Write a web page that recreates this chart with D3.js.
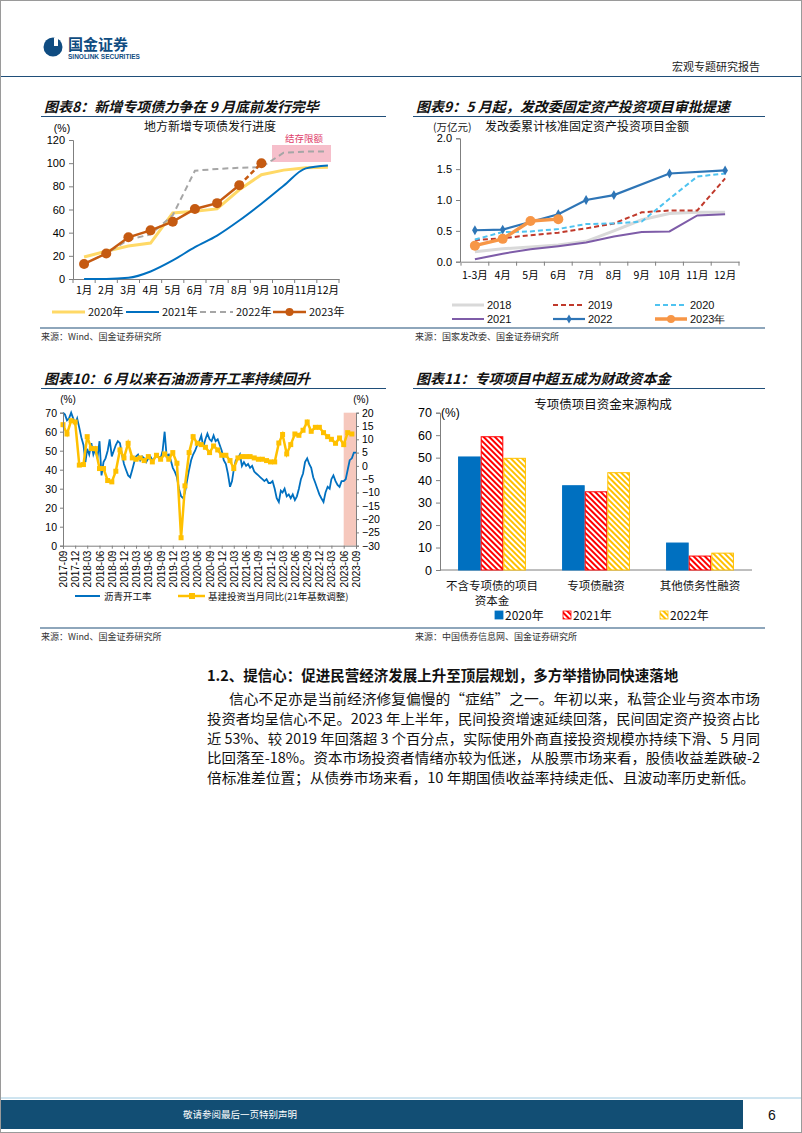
<!DOCTYPE html>
<html>
<head>
<meta charset="utf-8">
<script src="https://cdnjs.cloudflare.com/ajax/libs/d3/7.8.5/d3.min.js"></script>
<style>body{margin:0;background:#fff}</style>
</head>
<body>
<script>
// ---- chart 8 data (地方新增专项债发行进度, %)
const months12 = ["1月","2月","3月","4月","5月","6月","7月","8月","9月","10月","11月","12月"];
const issue2020 = [19,24,28.5,31,57,58.5,60.5,77,90,94,96,96.5];
const issue2021 = [0,0,1,6.5,16,27.5,37.5,50.5,65,80.5,95.5,98];
const issue2022 = [13,22,34,38.5,55,93.5,95,96,96.5,109,110,110];
const issue2023 = [13,22,36,42,49.5,60.5,65.5,81,100];

// ---- chart 9 data (发改委累计核准固定资产投资项目金额, 万亿元)
const ndrcMonths = ["1-3月","4月","5月","6月","7月","8月","9月","10月","11月","12月"];
const ndrc2018 = [0.16,0.21,0.24,0.27,0.33,0.50,0.68,0.78,0.80,0.80];
const ndrc2019 = [0.35,0.38,0.43,0.47,0.54,0.62,0.80,0.83,0.83,1.35];
const ndrc2020 = [0.36,0.48,0.49,0.53,0.61,0.62,0.65,1.02,1.38,1.43];
const ndrc2021 = [0.04,0.13,0.20,0.25,0.31,0.41,0.48,0.49,0.75,0.77];
const ndrc2022 = [0.51,0.52,null,0.77,1.00,1.08,null,1.43,null,1.48];
const ndrc2023 = [0.26,0.37,0.66,0.69];

// ---- chart 10 data
// 沥青开工率 (%), half-month readings from 2017-09
const asphaltRate = [70,69,66,67,70,67,64,67,62,57,53,44,51,48,54,48,51,46,55,37,
  44,46,50,56,47,50,53,55,54,48,43,40,37,36,40,44,47,48,45,47,
  46,44,46,47,45,46,48,47,46,50,60,47,48,45,41,39,36,30,26,25,
  28,34,40,45,48,50,53,55,58,52,56,59,56,55,58,55,56,53,50,45,
  43,38,31,34,40,45,46,48,42,44,42,43,41,42,39,38,37,36,35,34,
  35,33,33,34,30,25,23,29,28,30,26,27,25,27,24,26,30,35,38,44,
  46,43,41,36,33,30,27,25,23,28,31,30,35,37,34,32,31,34,34,35,
  40,45,46,49,49];
// 基建投资当月同比 (21年基数调整, %), monthly from 2017-09
const infraYoy = [15.5,12,17,16.5,0.3,0.5,11,6.5,6.5,-1,-1,-5.5,-6,-2,6,3,8.5,3,2.5,3,
  2,3.5,1.5,4,2.5,4.5,2.5,5,1,-27,-7.5,5,11,8.5,8,7,5,7.5,6,4,
  4,2,-1,3,3.5,3.5,3.5,3,2.5,2.5,2,1.5,1.5,8.6,11.8,4.5,8,12,11.5,13.4,
  16.5,13,14.5,14.5,12.5,11,10,8.5,10.5,8,12.5,12];
const quarterLabels = ["2017-09","2017-12","2018-03","2018-06","2018-09","2018-12","2019-03","2019-06","2019-09","2019-12",
  "2020-03","2020-06","2020-09","2020-12","2021-03","2021-06","2021-09","2021-12","2022-03","2022-06","2022-09","2022-12",
  "2023-03","2023-06","2023-09"];

// ---- chart 11 data (专项债项目资金来源构成, %)
const fundCats = ["不含专项债的项目资本金","专项债融资","其他债务性融资"];
const fundYears = ["2020年","2021年","2022年"];
const fund2020 = [50.3,37.5,12];
const fund2021 = [59.3,34.8,6.2];
const fund2022 = [49.7,43.3,7.5];

const numFont = "Liberation Sans, Arial, sans-serif";
const cnFont = "Noto Sans CJK SC, sans-serif";

let svg = d3.select("body").append("svg")
  .attr("width", 802)
  .attr("height", 1133)
  .style("background-color", "#fff");

let defs = svg.append("defs");
[["stripeRed","#FF0000"],["stripeYellow","#FFC000"]].forEach(p => {
  let pat = defs.append("pattern")
    .attr("id", p[0])
    .attr("patternUnits", "userSpaceOnUse")
    .attr("width", 4).attr("height", 4)
    .attr("patternTransform", "rotate(-45)");
  pat.append("rect").attr("width", 4).attr("height", 4).attr("fill", "#fff");
  pat.append("rect").attr("width", 2).attr("height", 4).attr("fill", p[1]);
});

// page frame
svg.append("rect").attr("x", 0.5).attr("y", 0.5).attr("width", 801).attr("height", 1132)
  .attr("fill", "none").attr("stroke", "#9a9a9a");

// ---------- header
svg.append("circle").attr("cx", 53).attr("cy", 47).attr("r", 9.5).attr("fill", "#0f4c81");
svg.append("rect").attr("x", 54).attr("y", 38).attr("width", 4).attr("height", 8).attr("fill", "#fff");
svg.append("text").attr("x", 68).attr("y", 50).attr("font-family", cnFont).attr("font-weight", "bold")
  .attr("font-size", "15px").attr("fill", "#0f4c81").text("国金证券");
svg.append("text").attr("x", 68).attr("y", 59).attr("font-family", numFont).attr("font-weight", "bold")
  .attr("font-size", "6.5px").attr("fill", "#0f4c81").text("SINOLINK SECURITIES");
svg.append("text").attr("x", 760).attr("y", 71).attr("text-anchor", "end").attr("font-family", cnFont)
  .attr("font-size", "11px").attr("fill", "#222").text("宏观专题研究报告");
svg.append("line").attr("x1", 1).attr("x2", 801).attr("y1", 76.5).attr("y2", 76.5)
  .attr("stroke", "#1f4e79").attr("stroke-width", 1.2);

// titles + rules
function chartTitle(x, y, txt, x2) {
  svg.append("text").attr("x", x).attr("y", y).attr("font-family", cnFont)
    .attr("font-weight", "bold").attr("font-style", "italic").attr("font-size", "14px")
    .attr("fill", "#111").text(txt);
  svg.append("line").attr("x1", x - 3).attr("x2", x2).attr("y1", y + 4.5).attr("y2", y + 4.5)
    .attr("stroke", "#1f4e79").attr("stroke-width", 1.2);
}
chartTitle(44, 112, "图表8：新增专项债力争在 9 月底前发行完毕", 386);
chartTitle(416, 112, "图表9：5 月起，发改委固定资产投资项目审批提速", 765);
chartTitle(44, 384, "图表10：6 月以来石油沥青开工率持续回升", 386);
chartTitle(416, 384, "图表11：专项项目中超五成为财政资本金", 765);

function sourceLine(y, left, right) {
  svg.append("line").attr("x1", 40).attr("x2", 765).attr("y1", y).attr("y2", y)
    .attr("stroke", "#1f4e79").attr("stroke-width", 1.2);
  svg.append("text").attr("x", 41).attr("y", y + 12).attr("font-family", cnFont)
    .attr("font-size", "9px").attr("fill", "#333").text(left);
  svg.append("text").attr("x", 415).attr("y", y + 12).attr("font-family", cnFont)
    .attr("font-size", "9px").attr("fill", "#333").text(right);
}
sourceLine(328, "来源：Wind、国金证券研究所", "来源：国家发改委、国金证券研究所");
sourceLine(628, "来源：Wind、国金证券研究所", "来源：中国债券信息网、国金证券研究所");

function styleAxis(g, size) {
  g.attr("font-family", numFont).attr("font-size", size);
  g.selectAll("text").attr("fill", "#000");
  g.selectAll("path,line").attr("stroke", "#7f7f7f");
}

// ============ chart 8
let x8 = d3.scaleBand().domain(months12).range([73, 339]);
let y8 = d3.scaleLinear().domain([0, 120]).range([279, 140]);

svg.append("rect").attr("x", 272).attr("y", 145).attr("width", 59).attr("height", 17)
  .attr("fill", "#f6bfcb");
svg.append("text").attr("x", 304).attr("y", 142).attr("text-anchor", "middle").attr("font-family", cnFont)
  .attr("font-size", "9.5px").attr("fill", "#e0406a").text("结存限额");

let ax8 = svg.append("g").attr("transform", "translate(73,0)")
  .call(d3.axisLeft(y8).tickValues(d3.range(0, 121, 20)).tickSize(4).tickPadding(4));
styleAxis(ax8, "11px");
let bx8 = svg.append("g").attr("transform", "translate(0,279)")
  .call(d3.axisBottom(x8).tickSize(0).tickPadding(8));
styleAxis(bx8, "11px");
bx8.selectAll("text").attr("font-family", cnFont).attr("font-size", "10.5px");
bx8.selectAll(".bound").data(months12.concat(["end"])).enter().append("line")
  .attr("x1", (d, i) => x8.range()[0] + i * x8.step()).attr("x2", (d, i) => x8.range()[0] + i * x8.step())
  .attr("y1", 0).attr("y2", 4).attr("stroke", "#7f7f7f");

svg.append("text").attr("x", 62).attr("y", 132).attr("text-anchor", "middle").attr("font-family", numFont)
  .attr("font-size", "10.5px").text("(%)");
svg.append("text").attr("x", 210).attr("y", 131).attr("text-anchor", "middle").attr("font-family", cnFont)
  .attr("font-size", "12px").attr("fill", "#111").text("地方新增专项债发行进度");

let line8 = d3.line().x((d, i) => x8(months12[i]) + x8.bandwidth() / 2).y(d => y8(d));
svg.append("path").datum(issue2020).attr("fill", "none").attr("stroke", "#ffd966").attr("stroke-width", 3).attr("d", line8);
svg.append("path").datum(issue2021).attr("fill", "none").attr("stroke", "#0070c0").attr("stroke-width", 2)
  .attr("d", line8.curve(d3.curveMonotoneX));
line8.curve(d3.curveLinear);
svg.append("path").datum(issue2022).attr("fill", "none").attr("stroke", "#a6a6a6").attr("stroke-width", 2)
  .attr("stroke-dasharray", "6,4").attr("d", line8);
svg.append("path").datum(issue2023.slice(0, 8)).attr("fill", "none").attr("stroke", "#c55a11").attr("stroke-width", 2.5).attr("d", line8);
svg.append("path").datum(issue2023.slice(7)).attr("fill", "none").attr("stroke", "#c55a11").attr("stroke-width", 2.5)
  .attr("stroke-dasharray", "5,3")
  .attr("d", d3.line().x((d, i) => x8(months12[i + 7]) + x8.bandwidth() / 2).y(d => y8(d)));
svg.selectAll(".m23").data(issue2023).enter().append("circle")
  .attr("cx", (d, i) => x8(months12[i]) + x8.bandwidth() / 2).attr("cy", d => y8(d))
  .attr("r", 5).attr("fill", "#c55a11");

let leg8 = [
  {t: "2020年", c: "#ffd966", w: 3, dash: null, x: 52},
  {t: "2021年", c: "#0070c0", w: 2, dash: null, x: 126},
  {t: "2022年", c: "#a6a6a6", w: 2, dash: "6,4", x: 200},
  {t: "2023年", c: "#c55a11", w: 2.5, dash: null, x: 273, dot: true}
];
leg8.forEach(l => {
  svg.append("line").attr("x1", l.x).attr("x2", l.x + 33).attr("y1", 312).attr("y2", 312)
    .attr("stroke", l.c).attr("stroke-width", l.w).attr("stroke-dasharray", l.dash);
  if (l.dot) svg.append("circle").attr("cx", l.x + 16.5).attr("cy", 312).attr("r", 4).attr("fill", l.c);
  svg.append("text").attr("x", l.x + 36).attr("y", 316).attr("font-family", cnFont)
    .attr("font-size", "11px").attr("fill", "#111").text(l.t);
});

// ============ chart 9
let x9 = d3.scaleBand().domain(ndrcMonths).range([461, 739]);
let y9 = d3.scaleLinear().domain([0, 2]).range([261.7, 138.3]);
let ax9 = svg.append("g").attr("transform", "translate(460,0)")
  .call(d3.axisLeft(y9).tickValues([0, 0.5, 1, 1.5, 2]).tickFormat(d3.format(".1f")).tickSize(4).tickPadding(4));
styleAxis(ax9, "11px");
let bx9 = svg.append("g").attr("transform", "translate(0,261.7)")
  .call(d3.axisBottom(x9).tickSize(0).tickPadding(10));
styleAxis(bx9, "11px");
bx9.selectAll("text").attr("font-family", cnFont).attr("font-size", "10.5px");
bx9.selectAll(".bound").data(ndrcMonths.concat(["end"])).enter().append("line")
  .attr("x1", (d, i) => x9.range()[0] + i * x9.step()).attr("x2", (d, i) => x9.range()[0] + i * x9.step())
  .attr("y1", 0).attr("y2", 4).attr("stroke", "#7f7f7f");

svg.append("text").attr("x", 433).attr("y", 131).attr("font-family", cnFont)
  .attr("font-size", "10.5px").attr("fill", "#222").text("(万亿元)");
svg.append("text").attr("x", 485).attr("y", 131).attr("font-family", cnFont)
  .attr("font-size", "12px").attr("fill", "#111").text("发改委累计核准固定资产投资项目金额");

let line9 = d3.line().defined(d => d.v !== null).x(d => x9(d.k) + x9.bandwidth() / 2).y(d => y9(d.v));
function pairs(arr) { return arr.map((v, i) => ({k: ndrcMonths[i], v: v})); }
let series9 = [
  {data: ndrc2018, c: "#d9d9d9", w: 3, dash: null},
  {data: ndrc2019, c: "#c0392b", w: 2, dash: "5,3"},
  {data: ndrc2020, c: "#4fc3f0", w: 2, dash: "5,3"},
  {data: ndrc2021, c: "#7e5ca8", w: 2, dash: null},
  {data: ndrc2022, c: "#2e75b6", w: 2.2, dash: null},
  {data: ndrc2023, c: "#f79646", w: 3.5, dash: null}
];
series9.forEach(s => {
  svg.append("path").datum(pairs(s.data).filter(d => d.v !== null)).attr("fill", "none")
    .attr("stroke", s.c).attr("stroke-width", s.w).attr("stroke-dasharray", s.dash).attr("d", line9);
});
svg.selectAll(".d22").data(pairs(ndrc2022).filter(d => d.v !== null)).enter().append("path")
  .attr("transform", d => `translate(${x9(d.k) + x9.bandwidth() / 2},${y9(d.v)})`)
  .attr("d", d3.symbol(d3.symbolDiamond, 28)).attr("fill", "#2e75b6");
svg.selectAll(".d23").data(pairs(ndrc2023)).enter().append("circle")
  .attr("cx", d => x9(d.k) + x9.bandwidth() / 2).attr("cy", d => y9(d.v)).attr("r", 5).attr("fill", "#f79646");

let leg9 = [
  {t: "2018", c: "#d9d9d9", w: 3, dash: null, x: 452, y: 305},
  {t: "2019", c: "#c0392b", w: 2, dash: "5,3", x: 553, y: 305},
  {t: "2020", c: "#4fc3f0", w: 2, dash: "5,3", x: 655, y: 305},
  {t: "2021", c: "#7e5ca8", w: 2, dash: null, x: 452, y: 319},
  {t: "2022", c: "#2e75b6", w: 2.2, dash: null, x: 553, y: 319, mark: "d"},
  {t: "2023年", c: "#f79646", w: 3.5, dash: null, x: 655, y: 319, mark: "c"}
];
leg9.forEach(l => {
  svg.append("line").attr("x1", l.x).attr("x2", l.x + 32).attr("y1", l.y).attr("y2", l.y)
    .attr("stroke", l.c).attr("stroke-width", l.w).attr("stroke-dasharray", l.dash);
  if (l.mark === "d") svg.append("path").attr("transform", `translate(${l.x + 16},${l.y})`)
    .attr("d", d3.symbol(d3.symbolDiamond, 24)).attr("fill", l.c);
  if (l.mark === "c") svg.append("circle").attr("cx", l.x + 16).attr("cy", l.y).attr("r", 4).attr("fill", l.c);
  svg.append("text").attr("x", l.x + 35).attr("y", l.y + 4).attr("font-family", numFont)
    .attr("font-size", "11px").attr("fill", "#111").text(l.t);
});

// ============ chart 10
let parseM = d3.timeParse("%Y-%m");
let t0 = parseM("2017-09");
let x10 = d3.scaleTime().domain([t0, parseM("2023-09")]).range([63, 356]);
let y10L = d3.scaleLinear().domain([0, 70]).range([545.7, 412.7]);
let y10R = d3.scaleLinear().domain([-30, 20]).range([545.7, 412.7]);

svg.append("rect").attr("x", x10(parseM("2023-06"))).attr("y", 412.7)
  .attr("width", x10(parseM("2023-09")) - x10(parseM("2023-06"))).attr("height", 133)
  .attr("fill", "#f6c8bd");

let asphaltPts = asphaltRate.map((v, i) => ({d: d3.timeDay.offset(d3.timeMonth.offset(t0, Math.floor(i / 2)), (i % 2) * 15), v: v}));
let infraPts = infraYoy.map((v, i) => ({d: d3.timeMonth.offset(t0, i), v: v}));

svg.append("path").datum(asphaltPts).attr("fill", "none").attr("stroke", "#0070c0").attr("stroke-width", 1.8)
  .attr("d", d3.line().x(d => x10(d.d)).y(d => y10L(d.v)));
svg.append("path").datum(infraPts).attr("fill", "none").attr("stroke", "#ffc000").attr("stroke-width", 2.5)
  .attr("d", d3.line().x(d => x10(d.d)).y(d => y10R(d.v)));
svg.selectAll(".sq").data(infraPts).enter().append("rect")
  .attr("x", d => x10(d.d) - 2.5).attr("y", d => y10R(d.v) - 2.5).attr("width", 5).attr("height", 5)
  .attr("fill", "#ffc000");

let ax10 = svg.append("g").attr("transform", "translate(63,0)")
  .call(d3.axisLeft(y10L).tickValues(d3.range(0, 71, 10)).tickSize(3).tickPadding(3));
styleAxis(ax10, "10.5px");
let rx10 = svg.append("g").attr("transform", "translate(356,0)")
  .call(d3.axisRight(y10R).tickValues(d3.range(-30, 21, 5)).tickSize(3).tickPadding(3));
styleAxis(rx10, "10.5px");
let bx10 = svg.append("g").attr("transform", "translate(0,545.7)")
  .call(d3.axisBottom(x10).tickValues(quarterLabels.map(parseM)).tickFormat(d3.timeFormat("%Y-%m")).tickSize(3));
styleAxis(bx10, "10px");
bx10.selectAll("text").attr("transform", "rotate(-90)").attr("text-anchor", "end")
  .attr("x", -5).attr("y", 0).attr("dy", "0.35em");

svg.append("text").attr("x", 68).attr("y", 403).attr("text-anchor", "middle").attr("font-family", numFont)
  .attr("font-size", "10px").text("(%)");
svg.append("text").attr("x", 361).attr("y", 403).attr("text-anchor", "middle").attr("font-family", numFont)
  .attr("font-size", "10px").text("(%)");

svg.append("line").attr("x1", 75).attr("x2", 100).attr("y1", 596).attr("y2", 596)
  .attr("stroke", "#0070c0").attr("stroke-width", 2);
svg.append("text").attr("x", 104).attr("y", 599.5).attr("font-family", cnFont).attr("font-size", "9.5px")
  .attr("fill", "#111").text("沥青开工率");
svg.append("line").attr("x1", 178).attr("x2", 205).attr("y1", 596).attr("y2", 596)
  .attr("stroke", "#ffc000").attr("stroke-width", 2.5);
svg.append("rect").attr("x", 189).attr("y", 593).attr("width", 6).attr("height", 6).attr("fill", "#ffc000");
svg.append("text").attr("x", 208).attr("y", 599.5).attr("font-family", cnFont).attr("font-size", "9.5px")
  .attr("fill", "#111").text("基建投资当月同比(21年基数调整)");

// ============ chart 11
let x11 = d3.scaleBand().domain(fundCats).range([440, 752]).padding(0);
let x11s = d3.scaleBand().domain(fundYears).range([0, x11.bandwidth()]).paddingOuter(0.8);
let y11 = d3.scaleLinear().domain([0, 70]).range([570, 412.7]);

let ax11 = svg.append("g").attr("transform", "translate(440,0)")
  .call(d3.axisLeft(y11).tickValues(d3.range(0, 71, 10)).tickSize(4).tickPadding(4));
styleAxis(ax11, "12.5px");
svg.append("line").attr("x1", 440).attr("x2", 752).attr("y1", 570).attr("y2", 570).attr("stroke", "#7f7f7f");

let fundRows = fundCats.map((c, i) => ({cat: c, vals: [fund2020[i], fund2021[i], fund2022[i]]}));
let fills11 = ["#0070c0", "url(#stripeRed)", "url(#stripeYellow)"];
let strokes11 = ["#0070c0", "#ff0000", "#ffc000"];
fundRows.forEach(r => {
  r.vals.forEach((v, j) => {
    svg.append("rect")
      .attr("x", x11(r.cat) + x11s(fundYears[j]) + 0.5)
      .attr("y", y11(v))
      .attr("width", x11s.bandwidth() - 1)
      .attr("height", y11(0) - y11(v))
      .attr("fill", fills11[j]).attr("stroke", strokes11[j]).attr("stroke-width", 1);
  });
});

svg.append("text").attr("x", 603).attr("y", 409).attr("text-anchor", "middle").attr("font-family", cnFont)
  .attr("font-size", "12.5px").attr("fill", "#111").text("专项债项目资金来源构成");
svg.append("text").attr("x", 441).attr("y", 417).attr("font-family", numFont)
  .attr("font-size", "12px").text("(%)");

let catLines = [["不含专项债的项目", "资本金"], ["专项债融资"], ["其他债务性融资"]];
fundCats.forEach((c, i) => {
  catLines[i].forEach((t, k) => {
    svg.append("text").attr("x", x11(c) + x11.bandwidth() / 2).attr("y", 590 + k * 15)
      .attr("text-anchor", "middle").attr("font-family", cnFont).attr("font-size", "11.5px")
      .attr("fill", "#111").text(t);
  });
});
[495, 563, 660].forEach((lx, j) => {
  svg.append("rect").attr("x", lx).attr("y", 611).attr("width", 8).attr("height", 8)
    .attr("fill", fills11[j]).attr("stroke", strokes11[j]).attr("stroke-width", 0.8);
  svg.append("text").attr("x", lx + 10).attr("y", 619.5).attr("font-family", cnFont)
    .attr("font-size", "12px").attr("fill", "#111").text(fundYears[j]);
});

// ---------- body text
svg.append("text").attr("x", 207).attr("y", 681).attr("font-family", cnFont).attr("font-weight", "bold")
  .attr("font-size", "14.5px").attr("fill", "#111").text("1.2、提信心：促进民营经济发展上升至顶层规划，多方举措协同快速落地");
let para = [
  {t: "信心不足亦是当前经济修复偏慢的“症结”之一。年初以来，私营企业与资本市场", x: 229},
  {t: "投资者均呈信心不足。2023 年上半年，民间投资增速延续回落，民间固定资产投资占比", x: 207},
  {t: "近 53%、较 2019 年回落超 3 个百分点，实际使用外商直接投资规模亦持续下滑、5 月同", x: 207},
  {t: "比回落至-18%。资本市场投资者情绪亦较为低迷，从股票市场来看，股债收益差跌破-2", x: 207},
  {t: "倍标准差位置；从债券市场来看，10 年期国债收益率持续走低、且波动率历史新低。", x: 207}
];
para.forEach((p, i) => {
  svg.append("text").attr("x", p.x).attr("y", 704 + i * 19.8).attr("font-family", cnFont)
    .attr("font-size", "14px").attr("fill", "#111")
    .attr("textLength", (i < 4 ? 760 : 755) - p.x).attr("lengthAdjust", "spacingAndGlyphs").text(p.t);
});

// ---------- footer
svg.append("line").attr("x1", 1).attr("x2", 801).attr("y1", 1098).attr("y2", 1098)
  .attr("stroke", "#9ecae1").attr("stroke-width", 1);
svg.append("rect").attr("x", 1).attr("y", 1100).attr("width", 742).attr("height", 29).attr("fill", "#124e74");
svg.append("text").attr("x", 240).attr("y", 1118).attr("text-anchor", "middle").attr("font-family", cnFont)
  .attr("font-size", "9.5px").attr("fill", "#fff").text("敬请参阅最后一页特别声明");
svg.append("text").attr("x", 772).attr("y", 1120).attr("text-anchor", "middle").attr("font-family", numFont)
  .attr("font-size", "14px").attr("fill", "#111").text("6");
</script>
</body>
</html>
